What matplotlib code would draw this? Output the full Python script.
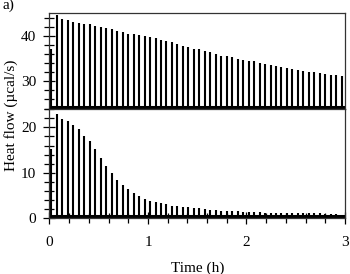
import matplotlib
matplotlib.use("Agg")
import matplotlib.pyplot as plt
from matplotlib.ticker import MultipleLocator
import numpy as np

plt.rcParams['font.family'] = ['Liberation Serif', 'DejaVu Serif']
plt.rcParams['font.size'] = 11

# injection schedule (h)
first_injection = 0.02
injection_interval = 0.0556

# peak maxima of each injection (ucal/s)
top_peaks = [37.1, 44.6, 43.75, 43.5, 43.2, 42.9, 42.7, 42.65, 42.3, 41.9,
             41.8, 41.5, 41.2, 40.95, 40.5, 40.5, 40.15, 39.95, 39.7, 39.56,
             39.1, 38.9, 38.6, 38.2, 37.9, 37.7, 37.2, 37.1, 36.8, 36.5,
             36.1, 35.7, 35.5, 35.3, 34.9, 34.75, 34.6, 34.5, 34.1, 33.8,
             33.7, 33.4, 33.2, 33.0, 32.8, 32.6, 32.3, 32.1, 32.0, 31.8,
             31.6, 31.5, 31.3, 31.2]
bottom_peaks = [15.3, 23.0, 21.95, 21.3, 20.45, 19.55, 18.2, 17.0, 15.2, 13.2,
                11.45, 9.9, 8.35, 7.3, 6.45, 5.6, 4.9, 4.25, 3.9, 3.55,
                3.25, 3.1, 2.8, 2.6, 2.5, 2.4, 2.2, 2.15, 2.1, 1.9,
                1.8, 1.7, 1.65, 1.65, 1.5, 1.3, 1.3, 1.4, 1.3, 1.2,
                1.1, 1.15, 1.1, 1.05, 1.1, 1.2, 1.25, 1.2, 1.15, 1.1,
                1.0, 1.0, 0.9, 0.8]
top_baseline = 24.4
bottom_baseline = 0.4

times = first_injection + injection_interval * np.arange(len(top_peaks))

fig = plt.figure(figsize=(3.5, 2.74), dpi=100)
ax_top = fig.add_axes([0.1414, 0.6022, 0.8443, 0.3504])
ax_bot = fig.add_axes([0.1414, 0.2026, 0.8443, 0.3996], sharex=ax_top)

# top trace
ax_top.vlines(times, top_baseline, top_peaks, color='black', lw=1.5)
ax_top.axhline(top_baseline, color='black', lw=2.2)
ax_top.set_ylim(23.9, 45.1)
ax_top.yaxis.set_major_locator(MultipleLocator(10))
ax_top.yaxis.set_minor_locator(MultipleLocator(2))
ax_top.tick_params(axis='x', which='both', bottom=False, labelbottom=False)

# bottom trace
ax_bot.vlines(times, bottom_baseline, bottom_peaks, color='black', lw=1.5)
ax_bot.axhline(bottom_baseline, color='black', lw=2.2)
ax_bot.set_ylim(-0.05, 24.05)
ax_bot.yaxis.set_major_locator(MultipleLocator(10))
ax_bot.yaxis.set_minor_locator(MultipleLocator(2))
ax_bot.set_xlim(0, 3)
ax_bot.xaxis.set_major_locator(MultipleLocator(1))
ax_bot.xaxis.set_minor_locator(MultipleLocator(0.2))
ax_bot.set_xlabel('Time (h)', labelpad=9)
ax_bot.tick_params(axis='x', which='major', pad=8)

for ax in (ax_top, ax_bot):
    ax.tick_params(which='major', direction='inout', length=9, width=0.9)
    ax.tick_params(which='minor', direction='inout', length=7, width=0.9)
    ax.tick_params(axis='y', which='major', pad=5)
    for s in ax.spines.values():
        s.set_linewidth(0.9)
        s.set_color('#333333')

fig.text(0.031, 0.58, 'Heat flow (\u00b5cal/s)', rotation=90, ha='center', va='center')
fig.text(0.006, 1 - 9 / 274, 'a)', ha='left', va='baseline')

fig.savefig('out.png', dpi=100)
